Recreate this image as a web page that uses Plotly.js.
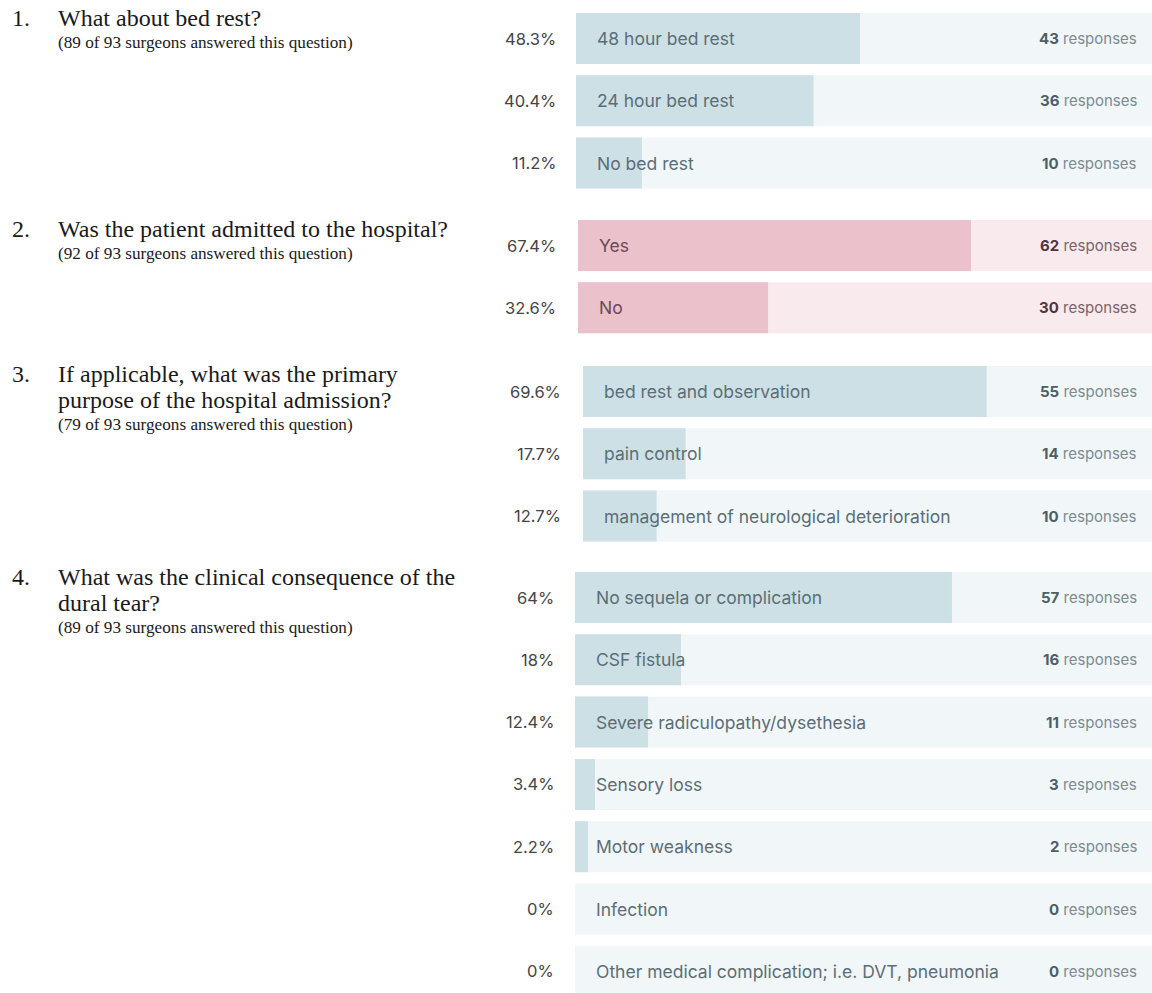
<!DOCTYPE html>
<html>
<head>
<meta charset="utf-8">
<script src="https://cdn.plot.ly/plotly-3.0.1.min.js"></script>
<style>html,body{margin:0;padding:0;background:#fff}#chart{width:1152px;height:993px}</style>
</head>
<body>
<div id="chart"></div>
<script>
// ---- data ----
const questionNumbers = ["1.", "2.", "3.", "4."];
const questionLines = [
  ["What about bed rest?"],
  ["Was the patient admitted to the hospital?"],
  ["If applicable, what was the primary", "purpose of the hospital admission?"],
  ["What was the clinical consequence of the", "dural tear?"]
];
const answeredCounts = [89, 92, 79, 89];
const totalSurgeons = 93;

const q1Labels = ["48 hour bed rest", "24 hour bed rest", "No bed rest"];
const q1Pct = [48.3, 40.4, 11.2];
const q1Resp = [43, 36, 10];

const q2Labels = ["Yes", "No"];
const q2Pct = [67.4, 32.6];
const q2Resp = [62, 30];

const q3Labels = ["bed rest and observation", "pain control", "management of neurological deterioration"];
const q3Pct = [69.6, 17.7, 12.7];
const q3Resp = [55, 14, 10];

const q4Labels = ["No sequela or complication", "CSF fistula", "Severe radiculopathy/dysethesia", "Sensory loss", "Motor weakness", "Infection", "Other medical complication; i.e. DVT, pneumonia"];
const q4Pct = [64, 18, 12.4, 3.4, 2.2, 0, 0];
const q4Resp = [57, 16, 11, 3, 2, 0, 0];

// ---- layout constants ----
const W = 1152, H = 993;
const panels = [
  {labels: q1Labels, pct: q1Pct, resp: q1Resp, x0: 576, y0: 13, track: 588, theme: "blue", pctRight: 558, qY: 18},
  {labels: q2Labels, pct: q2Pct, resp: q2Resp, x0: 578, y0: 220, track: 583, theme: "pink", pctRight: 558, qY: 229},
  {labels: q3Labels, pct: q3Pct, resp: q3Resp, x0: 583, y0: 366, track: 580, theme: "blue", pctRight: 563, qY: 374},
  {labels: q4Labels, pct: q4Pct, resp: q4Resp, x0: 575, y0: 572, track: 589, theme: "blue", pctRight: 556, qY: 577}
];
const rowStep = 62.3, barH = 51, qLineStep = 26;
const themes = {
  blue: {bar: "#cde0e6", track: "#f1f6f9", label: "#5b6e75", num: "#4d5f64", resp: "#7c8b90"},
  pink: {bar: "#ebc1cb", track: "#f9eaee", label: "#6a4c54", num: "#54343d", resp: "#7a6369"}
};
const sansFont = "Inter, 'Open Sans', sans-serif";
const serifFont = "'Liberation Serif', 'Times New Roman', serif";

const traces = [];
const annotations = [];
const layout = {
  width: W, height: H,
  margin: {l: 0, r: 0, t: 0, b: 0},
  paper_bgcolor: "#ffffff", plot_bgcolor: "rgba(0,0,0,0)",
  showlegend: false,
  barmode: "overlay",
  barcornerradius: 3,
  yaxis: {range: [H, 0], domain: [0, 1], visible: false, fixedrange: true},
  hovermode: false
};

panels.forEach((p, k) => {
  const ax = k === 0 ? "x" : "x" + (k + 1);
  const axName = k === 0 ? "xaxis" : "xaxis" + (k + 1);
  const th = themes[p.theme];
  layout[axName] = {
    domain: [p.x0 / W, 1],
    range: [0, (W - p.x0) / p.track * 100],
    anchor: "y", visible: false, fixedrange: true
  };
  const ys = p.labels.map((_, i) => p.y0 + barH / 2 + i * rowStep);
  // background track
  traces.push({
    type: "bar", orientation: "h", xaxis: ax, yaxis: "y",
    x: p.labels.map(() => 100), y: ys, width: barH,
    marker: {color: th.track}, hoverinfo: "skip"
  });
  // value bar
  traces.push({
    type: "bar", orientation: "h", xaxis: ax, yaxis: "y",
    x: p.pct, y: ys, width: barH,
    marker: {color: th.bar}, hoverinfo: "skip"
  });
  p.labels.forEach((lab, i) => {
    annotations.push({
      xref: ax, yref: "y", x: 0, y: ys[i], xanchor: "left", yanchor: "middle",
      xshift: 19, text: lab, showarrow: false,
      font: {family: sansFont, size: 17.5, color: th.label}
    });
    annotations.push({
      xref: "paper", yref: "y", x: p.pctRight / W, y: ys[i], xanchor: "right", yanchor: "middle",
      text: p.pct[i] + "%", showarrow: false,
      font: {family: sansFont, size: 16.5, color: "#444444"}
    });
    annotations.push({
      xref: "paper", yref: "y", x: 1, y: ys[i], xanchor: "right", yanchor: "middle",
      xshift: -13,
      text: "<b>" + p.resp[i] + "</b><span style='color:" + th.resp + "'> responses</span>",
      showarrow: false,
      font: {family: sansFont, size: 15, color: th.num}
    });
  });
  // question text
  const lines = questionLines[k];
  annotations.push({
    xref: "paper", yref: "y", x: 10 / W, y: p.qY, xanchor: "left", yanchor: "middle",
    text: questionNumbers[k], showarrow: false,
    font: {family: serifFont, size: 24, color: "#1a1a1a"}
  });
  lines.forEach((ln, j) => {
    annotations.push({
      xref: "paper", yref: "y", x: 56 / W, y: p.qY + j * qLineStep, xanchor: "left", yanchor: "middle",
      text: ln, showarrow: false, align: "left",
      font: {family: serifFont, size: 24, color: "#1a1a1a"}
    });
  });
  annotations.push({
    xref: "paper", yref: "y", x: 56 / W, y: p.qY + qLineStep * (lines.length - 1) + 24, xanchor: "left", yanchor: "middle",
    text: "(" + answeredCounts[k] + " of " + totalSurgeons + " surgeons answered this question)",
    showarrow: false, align: "left",
    font: {family: serifFont, size: 17.2, color: "#1a1a1a"}
  });
});
layout.annotations = annotations;

Plotly.newPlot("chart", traces, layout, {displayModeBar: false, staticPlot: true});
</script>
</body>
</html>
